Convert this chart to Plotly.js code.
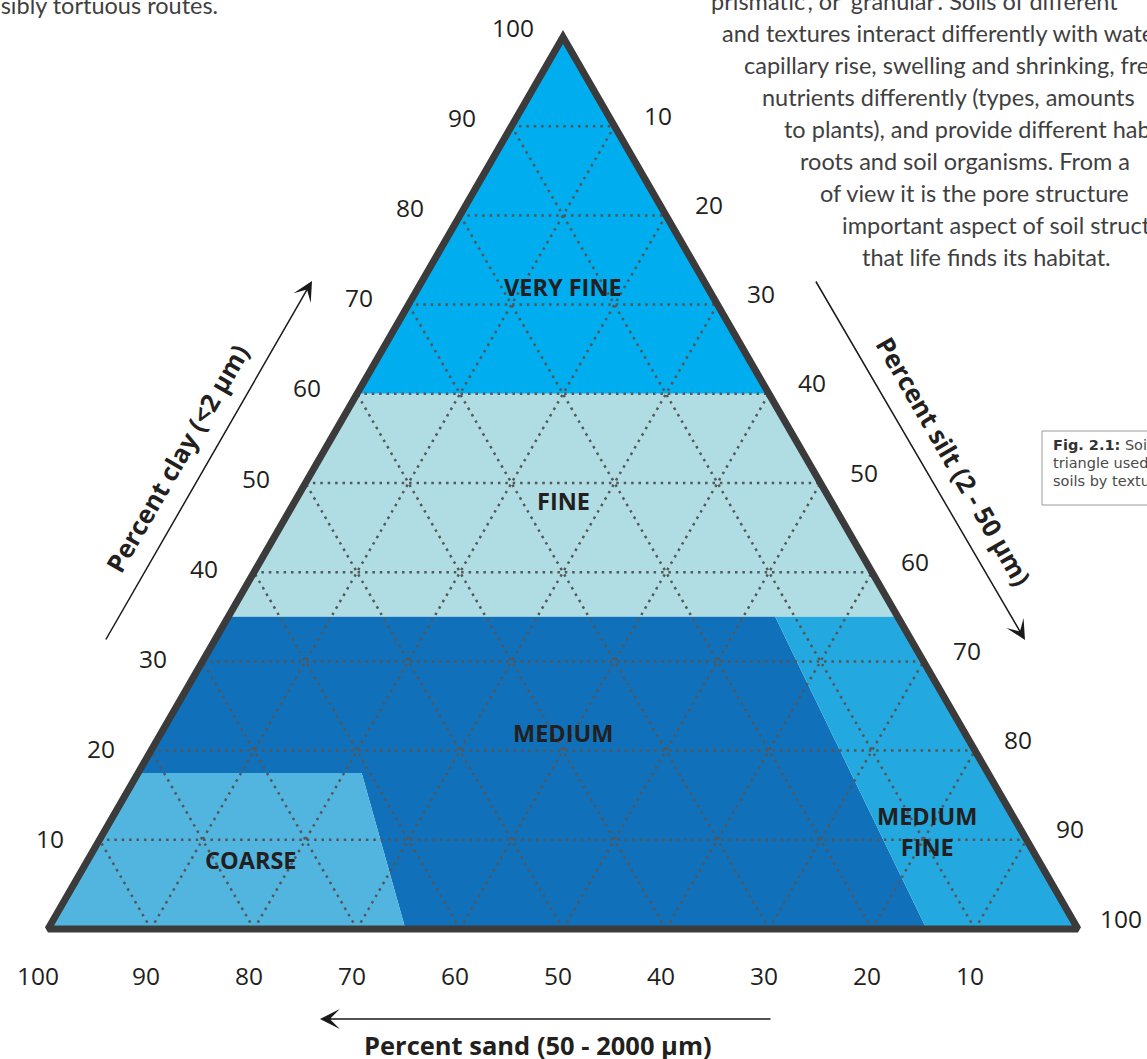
<!DOCTYPE html>
<html><head><meta charset="utf-8">
<script src="https://cdn.plot.ly/plotly-3.0.1.min.js"></script>
<style>html,body{margin:0;padding:0;background:#fff;overflow:hidden}</style>
</head><body><div id="chart" style="width:1147px;height:1059px"></div>
<script>
// ---- data (percent) ----
const gridLevels = [10, 20, 30, 40, 50, 60, 70, 80, 90];
const tickValues = [10, 20, 30, 40, 50, 60, 70, 80, 90, 100];
const tickLabels = ['10', '20', '30', '40', '50', '60', '70', '80', '90', '100'];
const classNames = ['VERY FINE', 'FINE', 'MEDIUM', 'COARSE', 'MEDIUM<br>FINE'];
// class polygons: clay % and sand % of each vertex
const veryFineClay = [60, 100, 60];
const veryFineSand = [40, 0, 0];
const fineClay = [35, 60, 60, 35];
const fineSand = [65, 40, 0, 0];
const mediumClay = [35, 35, 0, 0, 17.5, 17.5];
const mediumSand = [65, 11.9, 14.7, 65.3, 60.8, 82.5];
const coarseClay = [17.5, 0, 0, 17.5];
const coarseSand = [82.5, 100, 65.3, 60.8];
const medFineClay = [35, 35, 0, 0];
const medFineSand = [11.9, 0, 0, 14.7];
const outlineClay = [0, 0, 100, 0, 0];
const outlineSand = [100, 0, 0, 100, 0];

// ---- geometry / style ----
const T = {x: 563, y: 37}, BL = {x: 48, y: 929}, BR = {x: 1078, y: 929};
function px(clay, sand) {
  const silt = 100 - clay - sand;
  return BL.x * sand / 100 + BR.x * silt / 100 + T.x * clay / 100;
}
function py(clay, sand) {
  const silt = 100 - clay - sand;
  return BL.y * sand / 100 + BR.y * silt / 100 + T.y * clay / 100;
}
function poly(clay, sand, color) {
  return {
    type: 'scatter', mode: 'lines', fill: 'toself', fillcolor: color,
    x: clay.map((c, i) => px(c, sand[i])), y: clay.map((c, i) => py(c, sand[i])),
    line: {width: 0, color: color}, hoverinfo: 'skip', showlegend: false
  };
}
const colors = {veryFine: '#00AEEF', fine: '#AFDDE3', medium: '#1071BA', coarse: '#51B5E0', medFine: '#24A8E0'};

const traces = [
  poly(veryFineClay, veryFineSand, colors.veryFine),
  poly(fineClay, fineSand, colors.fine),
  poly(mediumClay, mediumSand, colors.medium),
  poly(coarseClay, coarseSand, colors.coarse),
  poly(medFineClay, medFineSand, colors.medFine)
];

// dotted grid
const gx = [], gy = [];
gridLevels.forEach(k => {
  gx.push(px(k, 100 - k), px(k, 0), null); gy.push(py(k, 100 - k), py(k, 0), null);
  gx.push(px(0, k), px(100 - k, k), null); gy.push(py(0, k), py(100 - k, k), null);
  gx.push(px(0, 100 - k), px(100 - k, 0), null); gy.push(py(0, 100 - k), py(100 - k, 0), null);
});
traces.push({type: 'scatter', mode: 'lines', x: gx, y: gy, connectgaps: false,
  line: {color: '#565656', width: 2.5, dash: '2.5px,4.9px'}, hoverinfo: 'skip', showlegend: false});

// outline
traces.push({type: 'scatter', mode: 'lines',
  x: outlineClay.map((c, i) => px(c, outlineSand[i])), y: outlineClay.map((c, i) => py(c, outlineSand[i])),
  line: {color: '#3b3b3b', width: 7}, hoverinfo: 'skip', showlegend: false});

const ann = [];
const tickFont = {family: 'Open Sans, sans-serif', size: 24.5, color: '#231F20'};
tickValues.forEach((v, i) => {
  ann.push({x: px(0, v), y: py(0, v), text: tickLabels[i], showarrow: false, xshift: v === 100 ? -10 : -5, yshift: -46, font: tickFont});
  ann.push({x: px(v, 100 - v), y: py(v, 100 - v), text: tickLabels[i], showarrow: false, xshift: -50, yshift: 0.1 * v, font: tickFont});
  ann.push({x: px(100 - v, 0), y: py(100 - v, 0), text: tickLabels[i], showarrow: false, xshift: 43, yshift: 11, font: tickFont});
});

const classFont = {family: 'Open Sans, sans-serif', size: 23.5, color: '#231F20', weight: 'bold'};
const classPos = [[72, 14], [48, 26], [22, 39], [7.7, 76.4], [10.9, 9.2]];
classNames.forEach((n, i) => {
  ann.push({x: px(classPos[i][0], classPos[i][1]), y: py(classPos[i][0], classPos[i][1]), text: n,
    showarrow: false, font: classFont, align: 'center'});
});

const titleFont = {family: 'Open Sans, sans-serif', size: 25.5, color: '#231F20', weight: 'bold'};
ann.push({x: 177, y: 458, text: 'Percent clay (&lt;2 µm)', textangle: -60, showarrow: false, font: titleFont});
ann.push({x: 954, y: 461, text: 'Percent silt (2 - 50 µm)', textangle: 60, showarrow: false, font: titleFont});
ann.push({x: 538, y: 1045, text: 'Percent sand (50 - 2000 µm)', showarrow: false, font: titleFont});

// arrows
const arrowStyle = {text: '', showarrow: true, arrowhead: 3, arrowsize: 2.2, arrowwidth: 1.5, arrowcolor: '#1a1a1a', axref: 'x', ayref: 'y', standoff: 0, startstandoff: 0};
ann.push(Object.assign({x: 312, y: 281, ax: 105, ay: 641}, arrowStyle));
ann.push(Object.assign({x: 1025, y: 640, ax: 815, ay: 280}, arrowStyle));
ann.push(Object.assign({x: 320, y: 1019, ax: 772, ay: 1019}, arrowStyle));

// surrounding page text
const bodyFont = {family: 'Lato, sans-serif', size: 23.5, color: '#3f3f3f'};
ann.push({x: 220, y: 5, xanchor: 'right', text: 'possibly tortuous routes.', showarrow: false, font: bodyFont});
const bodyLines = [
  '‘prismatic’, or ‘granular’. Soils of different',
  'and textures interact differently with water',
  'capillary rise, swelling and shrinking, freezing',
  'nutrients differently (types, amounts',
  'to plants), and provide different habitats',
  'roots and soil organisms. From a',
  'of view it is the pore structure',
  'important aspect of soil structure',
  'that life finds its habitat.'
];
const bodyX = [704, 720, 742, 760, 782, 798, 818, 840, 860];
bodyLines.forEach((t, i) => {
  ann.push({x: bodyX[i], y: 0.5 + 32 * i, xanchor: 'left', text: t, showarrow: false, font: bodyFont});
});
const capFont = {family: 'DejaVu Sans, sans-serif', size: 14.5, color: '#4a4a4a'};
const capLines = ['<b style="color:#333">Fig. 2.1:</b> Soil texture', 'triangle used to classify', 'soils by texture'];
capLines.forEach((t, i) => {
  ann.push({x: 1051, y: 445 + 18 * i, xanchor: 'left', text: t, showarrow: false, font: capFont});
});

const layout = {
  width: 1147, height: 1059, margin: {l: 0, r: 0, t: 0, b: 0},
  paper_bgcolor: '#ffffff', plot_bgcolor: '#ffffff',
  xaxis: {range: [0, 1147], visible: false, fixedrange: true},
  yaxis: {range: [1059, 0], visible: false, fixedrange: true},
  showlegend: false, hovermode: false,
  annotations: ann,
  shapes: [{type: 'rect', xref: 'x', yref: 'y', x0: 1042, x1: 1170, y0: 431, y1: 505, line: {color: '#9a9a9a', width: 1}}]
};
Plotly.newPlot('chart', traces, layout, {staticPlot: true, displayModeBar: false});
</script></body></html>
